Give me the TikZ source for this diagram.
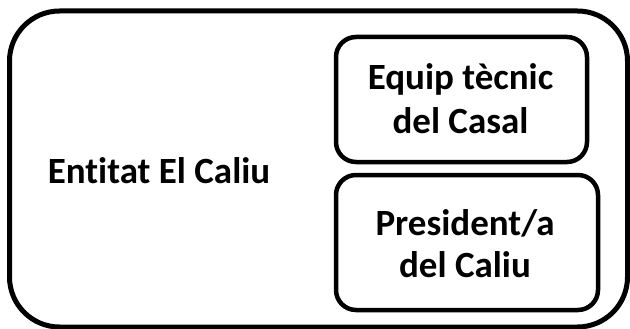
\documentclass[tikz,border=0pt]{standalone}
\usepackage{fontspec}
\setmainfont{Carlito}[Ligatures=NoCommon]
\begin{document}
\begin{tikzpicture}[x=1pt,y=-1pt,
  outerbox/.style={draw=black,line width=5pt,rounded corners=50pt,inner sep=0pt},
  innerbox/.style={draw=black,line width=4.5pt,rounded corners=20pt,inner sep=0pt},
  lbl/.style={font=\fontsize{37}{43}\selectfont\bfseries,inner sep=0pt,anchor=base}]
\useasboundingbox (0,0) rectangle (630,329);
\node[outerbox,minimum width=618pt,minimum height=316pt] (outer) at (318.5,169) {};
\node[innerbox,minimum width=251pt,minimum height=125pt] (equip) at (461.5,99.5) {};
\node[innerbox,minimum width=262pt,minimum height=135pt] (pres) at (467,242.5) {};
\node[lbl] (ent) at (159,183) {Entitat El Caliu};
\node[lbl] (equipa) at (460.5,90) {Equip tècnic};
\node[lbl] (equipb) at (460.5,133) {del Casal};
\node[lbl] (presa) at (465,235) {President/a};
\node[lbl] (presb) at (465,277) {del Caliu};
\end{tikzpicture}
\end{document}
